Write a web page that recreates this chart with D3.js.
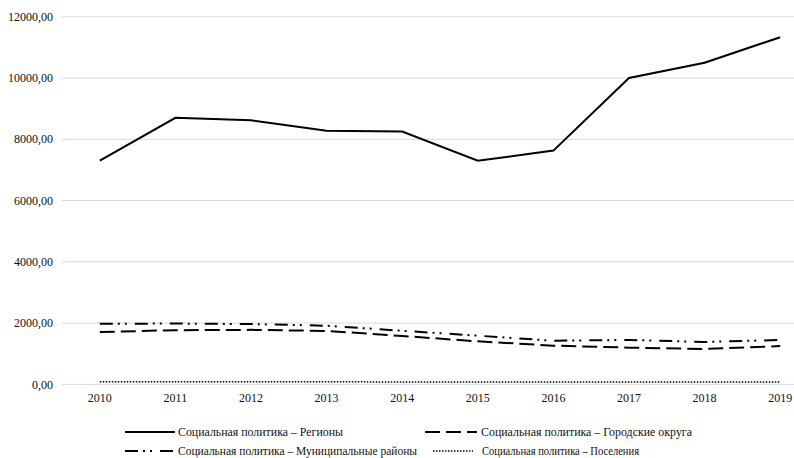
<!DOCTYPE html>
<html>
<head>
<meta charset="utf-8">
<script src="https://cdn.jsdelivr.net/npm/d3@7"></script>
<style>
  body { margin: 0; background: #fff; }
</style>
</head>
<body>
<svg id="chart"></svg>
<script>
const years = ["2010", "2011", "2012", "2013", "2014", "2015", "2016", "2017", "2018", "2019"];
const regions = [7300, 8700, 8620, 8280, 8250, 7300, 7630, 10000, 10500, 11330];
const cityDistricts = [1710, 1770, 1780, 1745, 1580, 1405, 1265, 1200, 1155, 1250];
const municipalDistricts = [1980, 1985, 1970, 1915, 1750, 1590, 1425, 1450, 1385, 1450];
const settlements = [85, 85, 85, 85, 80, 80, 80, 80, 80, 80];
const yTicks = [0, 2000, 4000, 6000, 8000, 10000, 12000];

const series = [
  { name: "Социальная политика – Регионы", values: regions, dash: null },
  { name: "Социальная политика – Городские округа", values: cityDistricts, dash: "15,6" },
  { name: "Социальная политика – Муниципальные районы", values: municipalDistricts, dash: "13,5,2,5,2,8" },
  { name: "Социальная политика – Поселения", values: settlements, dash: "1.5,1.5" },
];

// legend layout: sample line start/end, text start, text width, row
const legendLayout = [
  { x1: 125, x2: 175, tx: 178, tw: 165, ty: 432 },
  { x1: 425, x2: 477, tx: 481, tw: 211, ty: 432 },
  { x1: 125, x2: 175, tx: 178, tw: 239, ty: 451 },
  { x1: 433, x2: 473, tx: 482, tw: 157, ty: 451 },
];

const width = 794, height = 458;
const font = "'Liberation Serif', 'Times New Roman', 'DejaVu Serif', serif";
const svg = d3.select("#chart").attr("width", width).attr("height", height)
  .attr("font-family", font);

const x = d3.scalePoint().domain(years).range([62, 818]).padding(0.5);
const y = d3.scaleLinear().domain([0, 12000]).range([384.4, 16.7]);

const locale = d3.formatLocale({ decimal: ",", thousands: "", grouping: [3], currency: ["", ""] });
const fmt = locale.format(".2f");

// grid
svg.append("g")
  .selectAll("line")
  .data(yTicks)
  .enter()
  .append("line")
  .attr("x1", 62)
  .attr("x2", width)
  .attr("y1", (d) => y(d))
  .attr("y2", (d) => y(d))
  .attr("stroke", "#d9d9d9")
  .attr("stroke-width", 1);

// y labels
svg.append("g")
  .selectAll("text")
  .data(yTicks)
  .enter()
  .append("text")
  .attr("x", 53)
  .attr("y", (d) => y(d))
  .attr("dy", "0.35em")
  .attr("text-anchor", "end")
  .attr("font-size", 12)
  .attr("fill", "#111")
  .text((d) => fmt(d));

// x labels
svg.append("g")
  .selectAll("text")
  .data(years)
  .enter()
  .append("text")
  .attr("x", (d) => x(d))
  .attr("y", 402)
  .attr("text-anchor", "middle")
  .attr("font-size", 12)
  .attr("fill", "#111")
  .text((d) => d);

const line = d3.line()
  .x((d, i) => x(years[i]))
  .y((d) => y(d));

svg.append("g")
  .selectAll("path")
  .data(series)
  .enter()
  .append("path")
  .attr("d", (d) => line(d.values))
  .attr("fill", "none")
  .attr("stroke", "#000")
  .attr("stroke-width", (d) => (d.dash === "1.5,1.5" ? 1.5 : 2))
  .attr("stroke-dasharray", (d) => d.dash);

// legend
const items = svg.append("g")
  .selectAll("g")
  .data(series)
  .enter()
  .append("g");

items.append("line")
  .attr("x1", (d, i) => legendLayout[i].x1)
  .attr("x2", (d, i) => legendLayout[i].x2)
  .attr("y1", (d, i) => legendLayout[i].ty)
  .attr("y2", (d, i) => legendLayout[i].ty)
  .attr("stroke", "#000")
  .attr("stroke-width", (d) => (d.dash === "1.5,1.5" ? 1.5 : 2))
  .attr("stroke-dasharray", (d) => d.dash);

items.append("text")
  .attr("x", (d, i) => legendLayout[i].tx)
  .attr("y", (d, i) => legendLayout[i].ty)
  .attr("dy", "0.35em")
  .attr("font-size", 12)
  .attr("fill", "#111")
  .attr("textLength", (d, i) => legendLayout[i].tw)
  .attr("lengthAdjust", "spacingAndGlyphs")
  .text((d) => d.name);
</script>
</body>
</html>
